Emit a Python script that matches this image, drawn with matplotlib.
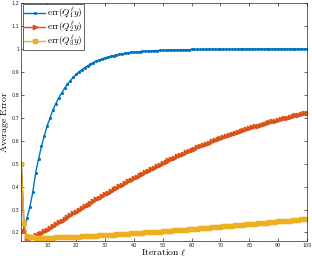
import numpy as np
import matplotlib.pyplot as plt

plt.rcParams['mathtext.fontset'] = 'cm'

iters = np.arange(1, 101)

err_q1 = [0.500, 0.220, 0.262, 0.312, 0.375, 0.460, 0.520, 0.575, 0.622, 0.665,
          0.700, 0.735, 0.762, 0.787, 0.808, 0.828, 0.846, 0.862, 0.876, 0.889,
          0.900, 0.910, 0.919, 0.927, 0.934, 0.941, 0.947, 0.952, 0.957, 0.961,
          0.965, 0.968, 0.971, 0.974, 0.977, 0.979, 0.981, 0.983, 0.985, 0.986,
          0.987, 0.988, 0.989, 0.990, 0.991, 0.992, 0.993, 0.993, 0.994, 0.994,
          0.995, 0.995, 0.996, 0.996, 0.996, 0.997, 0.997, 0.997, 0.997, 0.998,
          0.998, 0.998, 0.998, 0.998, 0.998, 0.999, 0.999, 0.999, 0.999, 0.999,
          0.999, 0.999, 0.999, 0.999, 0.999, 0.999, 1.000, 1.000, 1.000, 1.000,
          1.000, 1.000, 1.000, 1.000, 1.000, 1.000, 1.000, 1.000, 1.000, 1.000,
          1.000, 1.000, 1.000, 1.000, 1.000, 1.000, 1.000, 1.000, 1.000, 1.000]

err_q2 = [0.500, 0.205, 0.174, 0.178, 0.182, 0.187, 0.193, 0.199, 0.206, 0.213,
          0.220, 0.228, 0.236, 0.244, 0.252, 0.260, 0.268, 0.275, 0.283, 0.291,
          0.299, 0.306, 0.314, 0.321, 0.329, 0.336, 0.344, 0.351, 0.359, 0.366,
          0.373, 0.380, 0.388, 0.395, 0.402, 0.409, 0.416, 0.423, 0.430, 0.437,
          0.444, 0.450, 0.457, 0.464, 0.470, 0.477, 0.483, 0.490, 0.496, 0.502,
          0.508, 0.514, 0.520, 0.526, 0.532, 0.538, 0.544, 0.549, 0.555, 0.561,
          0.566, 0.572, 0.577, 0.582, 0.587, 0.592, 0.597, 0.602, 0.607, 0.612,
          0.617, 0.621, 0.626, 0.630, 0.634, 0.639, 0.643, 0.647, 0.651, 0.655,
          0.659, 0.663, 0.666, 0.670, 0.674, 0.677, 0.681, 0.684, 0.688, 0.691,
          0.694, 0.697, 0.700, 0.704, 0.707, 0.710, 0.713, 0.716, 0.719, 0.722]

err_q3 = [0.500, 0.240, 0.185, 0.180, 0.179, 0.178, 0.178, 0.178, 0.178, 0.178,
          0.178, 0.178, 0.179, 0.179, 0.179, 0.180, 0.180, 0.181, 0.181, 0.182,
          0.182, 0.183, 0.183, 0.184, 0.185, 0.185, 0.186, 0.187, 0.188, 0.189,
          0.189, 0.190, 0.191, 0.192, 0.192, 0.193, 0.194, 0.195, 0.196, 0.197,
          0.198, 0.198, 0.199, 0.200, 0.201, 0.202, 0.203, 0.203, 0.204, 0.205,
          0.206, 0.207, 0.208, 0.209, 0.210, 0.211, 0.212, 0.213, 0.214, 0.215,
          0.216, 0.217, 0.218, 0.219, 0.220, 0.221, 0.222, 0.223, 0.224, 0.226,
          0.227, 0.228, 0.229, 0.230, 0.231, 0.232, 0.233, 0.234, 0.235, 0.237,
          0.238, 0.239, 0.240, 0.241, 0.242, 0.243, 0.244, 0.245, 0.246, 0.248,
          0.249, 0.250, 0.251, 0.252, 0.253, 0.255, 0.256, 0.257, 0.258, 0.260]

labels = [r'$\mathrm{err}(Q_1^\ell y)$', r'$\mathrm{err}(Q_2^\ell y)$',
          r'$\mathrm{err}(Q_3^\ell y)$']

fig = plt.figure(figsize=(3.12, 2.58), dpi=100)
ax = fig.add_axes([0.068, 0.066, 0.916, 0.922])

ax.plot(iters, err_q1, color='#0072BD', lw=1.0, marker='.', ms=2.5,
        label=labels[0])
ax.plot(iters, err_q2, color='#D95319', lw=1.0, marker='>', ms=3.2,
        label=labels[1])
ax.plot(iters, err_q3, color='#EDB120', lw=1.0, marker='s', ms=3.0,
        label=labels[2])

ax.set_xlim(1, 100)
ax.set_ylim(0.163, 1.2)
ax.set_xticks(range(10, 101, 10))
ax.set_yticks(np.arange(0.2, 1.21, 0.1))
ax.set_yticklabels(['0.2', '0.3', '0.4', '0.5', '0.6', '0.7', '0.8', '0.9',
                    '1', '1.1', '1.2'])
ax.tick_params(direction='in', labelsize=3.5, length=2, width=0.5,
               top=True, right=True, colors='#262626', pad=1.5)
for s in ax.spines.values():
    s.set_linewidth(0.5)
    s.set_color('#262626')

ax.set_xlabel(r'$\mathrm{Iteration}\ \ell$', fontsize=7, labelpad=0)
ax.set_ylabel(r'$\mathrm{Average\ Error}$', fontsize=7, labelpad=0.3)

leg = ax.legend(loc='upper left', fontsize=6.6, handlelength=2.3,
                handletextpad=0.2, borderpad=0.15, labelspacing=-0.1,
                borderaxespad=0.15, fancybox=False, framealpha=1)
leg.get_frame().set_edgecolor('#262626')
leg.get_frame().set_linewidth(0.5)

fig.savefig('out.png', dpi=100)
